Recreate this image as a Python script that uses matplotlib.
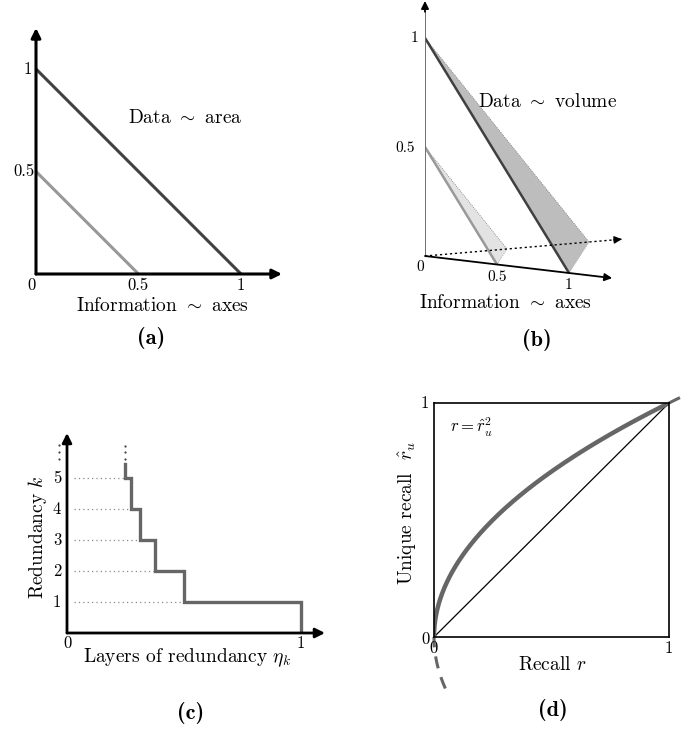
import matplotlib
matplotlib.use('Agg')
import matplotlib.pyplot as plt
import numpy as np

plt.rcParams['font.family'] = 'cmr10'
plt.rcParams['mathtext.fontset'] = 'cm'
plt.rcParams['axes.unicode_minus'] = False

# ---------------- data ----------------
# (a) information / data lines
levels_a = [1.0, 0.5]
colors_a = ['#404040', '#999999']
# (b) oblique 3D triangles
levels_b = [1.0, 0.5]
fills_b = ['#bdbdbd', '#e3e3e3']
lines_b = ['#404040', '#999999']
# (c) layers of redundancy eta_k for k = 1..5
k_vals = [1, 2, 3, 4, 5]
eta_vals = [0.5, 0.375, 0.3125, 0.273, 0.246]
eta_top = 5.45
# (d) unique recall curve r = r_u^2
ru_curve = np.linspace(0, 1, 300)

W, H = 685, 730
fig = plt.figure(figsize=(W / 100, H / 100), dpi=100)


def add_axes_px(left, top, right, bottom):
    ax = fig.add_axes([left / W, 1 - bottom / H, (right - left) / W, (bottom - top) / H])
    return ax


def arrow(ax, start, end, lw=2.0, color='black', ls='-', ms=14):
    ax.annotate('', xy=end, xytext=start,
                arrowprops=dict(arrowstyle='-|>', lw=lw, color=color, linestyle=ls,
                                mutation_scale=ms, shrinkA=0, shrinkB=0),
                annotation_clip=False)


LBL = 14
TCK = 12
BOLD = dict(fontfamily='cmb10', fontsize=16)

# ---------------- panel (a) ----------------
axA = add_axes_px(36, 28, 282, 274)
axA.set_xlim(0, 1.2)
axA.set_ylim(0, 1.2)
axA.axis('off')
for lvl, c in zip(levels_a, colors_a):
    axA.plot([0, lvl], [lvl, 0], color=c, lw=2.2, solid_capstyle='butt')
arrow(axA, (0, 0), (1.2, 0), lw=2.2)
arrow(axA, (0, 0), (0, 1.2), lw=2.2)
axA.text(-0.02, -0.054, '0', ha='center', va='center', fontsize=TCK)
axA.text(0.5, -0.054, '0.5', ha='center', va='center', fontsize=TCK)
axA.text(1.0, -0.054, '1', ha='center', va='center', fontsize=TCK)
axA.text(-0.041, 1.0, '1', ha='center', va='center', fontsize=TCK)
axA.text(-0.059, 0.5, '0.5', ha='center', va='center', fontsize=TCK)
axA.text(0.727, 0.761, r'Data $\sim$ area', ha='center', va='center', fontsize=LBL)
axA.text(0.615, -0.156, r'Information $\sim$ axes', ha='center', va='center', fontsize=LBL)
axA.text(0.561, -0.312, '(a)', ha='center', va='center', **BOLD)

# ---------------- panel (b) ----------------
S = 218.0
axB = add_axes_px(425, 0, 640, 300)
axB.set_xlim(0, 215 / S)
axB.set_ylim(-44 / S, 256 / S)
axB.axis('off')
ex = np.array([144, -17]) / S
ey = np.array([0, 218]) / S
ez = np.array([164, 14]) / S


def P(x, y, z):
    return x * ex + y * ey + z * ez


for lvl, fc, lc in zip(levels_b, fills_b, lines_b):
    A, B, C = P(0, lvl, 0), P(lvl, 0, 0), P(0, 0, lvl)
    axB.fill([A[0], B[0], C[0]], [A[1], B[1], C[1]], color=fc, lw=0)
    axB.plot([A[0], C[0]], [A[1], C[1]], color='#777777', lw=0.6, ls=(0, (1, 1.5)))
    axB.plot([B[0], C[0]], [B[1], C[1]], color='#999999', lw=0.6, ls=(0, (1, 1.5)))
    axB.plot([A[0], B[0]], [A[1], B[1]], color=lc, lw=1.8, solid_capstyle='butt')

O = P(0, 0, 0)
axB.plot([0, 0], [0, 1.13], color='#666666', lw=1.3)
arrow(axB, tuple(P(0, 1.12, 0)), tuple(P(0, 1.17, 0)), lw=1.3, ms=11)
arrow(axB, tuple(O), tuple(P(1.3, 0, 0)), lw=1.3, ms=11)
zend = P(0, 0, 1.2)
axB.plot([O[0], zend[0]], [O[1], zend[1]], color='black', lw=1.0, ls=(0, (1.6, 2.0)))
arrow(axB, tuple(P(0, 0, 1.15)), tuple(zend), lw=1.0, ms=11)

axB.text(0.56, 0.706, r'Data $\sim$ volume', ha='center', va='center', fontsize=LBL)
axB.text(-0.046, 1.0, '1', ha='center', va='center', fontsize=11)
axB.text(-0.092, 0.495, '0.5', ha='center', va='center', fontsize=11)
axB.text(-0.023, -0.05, '0', ha='center', va='center', fontsize=11)
axB.text(0.33, -0.096, '0.5', ha='center', va='center', fontsize=11)
axB.text(0.656, -0.133, '1', ha='center', va='center', fontsize=11)
axB.text(0.367, -0.216, r'Information $\sim$ axes', ha='center', va='center', fontsize=LBL)
axB.text(0.514, -0.385, '(b)', ha='center', va='center', **BOLD)

# ---------------- panel (c) ----------------
axC = add_axes_px(67, 433, 325, 633)
axC.set_xlim(0, 258 / 234)
axC.set_ylim(0, 200 / 31)
axC.axis('off')
xs = [1.0, 1.0]
ys = [0, 1]
for k, e in zip(k_vals, eta_vals):
    xs += [e, e]
    ys += [k, (k + 1) if k < k_vals[-1] else eta_top]
for k, e in zip(k_vals, eta_vals):
    axC.plot([0.03, e], [k, k], color='#888888', lw=0.9, ls=(0, (1, 2.5)))
axC.plot(xs, ys, color='#666666', lw=2.4, solid_joinstyle='miter')
arrow(axC, (0, 0), (258 / 234, 0), lw=2.0)
arrow(axC, (0, 0), (0, 200 / 31), lw=2.0)
for k in k_vals:
    axC.text(-0.043, k, str(k), ha='center', va='center', fontsize=TCK)
axC.plot([-0.034] * 3, [5.62, 5.85, 6.08], 'o', color='#444444', ms=1.6, mew=0, clip_on=False)
axC.plot([eta_vals[-1]] * 3, [5.62, 5.83, 6.04], 'o', color='#444444', ms=1.6, mew=0, clip_on=False)
axC.text(0.0, -0.32, '0', ha='center', va='center', fontsize=TCK)
axC.text(1.0, -0.32, '1', ha='center', va='center', fontsize=TCK)
axC.text(-0.124, 3.1, r'Redundancy $k$', rotation=90, ha='center', va='center', fontsize=LBL)
axC.text(0.513, -0.81, r'Layers of redundancy $\eta_k$', ha='center', va='center', fontsize=LBL)
axC.text(0.526, -2.58, '(c)', ha='center', va='center', **BOLD)

# ---------------- panel (d) ----------------
axD = add_axes_px(434, 403, 669, 637)
axD.set_xlim(0, 1)
axD.set_ylim(0, 1)
axD.set_xticks([])
axD.set_yticks([])
for sp in axD.spines.values():
    sp.set_linewidth(1.2)
axD.plot([0, 1], [0, 1], color='black', lw=0.9)
axD.plot(ru_curve ** 2, ru_curve, color='#666666', lw=3.2)
ru_lo = np.linspace(-0.22, 0, 60)
ru_hi = np.linspace(1, 1.06, 30)
axD.plot(ru_lo ** 2, ru_lo, color='#666666', lw=2.2, ls=(0, (4, 3)), clip_on=False)
axD.plot(ru_hi ** 2, ru_hi, color='#666666', lw=2.2, ls=(0, (4, 3)), clip_on=False)
axD.text(-0.038, 1.0, '1', ha='center', va='center', fontsize=TCK)
axD.text(-0.038, -0.01, '0', ha='center', va='center', fontsize=TCK)
axD.text(0.0, -0.047, '0', ha='center', va='center', fontsize=TCK)
axD.text(1.0, -0.047, '1', ha='center', va='center', fontsize=TCK)
axD.text(-0.11, 0.53, r'Unique recall  $\hat{r}_u$', rotation=90, ha='center', va='center', fontsize=LBL)
axD.text(0.506, -0.12, r'Recall $r$', ha='center', va='center', fontsize=LBL)
axD.text(0.068, 0.897, r'$r = \hat{r}_u^2$', ha='left', va='center', fontsize=12)
axD.text(0.506, -0.312, '(d)', ha='center', va='center', **BOLD)

fig.savefig('out.png', dpi=100)
